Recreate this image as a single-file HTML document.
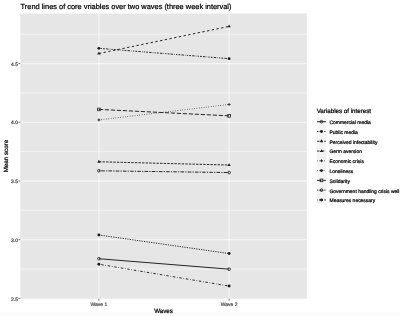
<!DOCTYPE html>
<html><head><meta charset="utf-8"><style>
html,body{margin:0;padding:0;background:#fff;}
body{width:400px;height:316px;overflow:hidden;}
svg{display:block;will-change:transform;}
text{font-family:"Liberation Sans",sans-serif;stroke-width:0.22px;text-rendering:geometricPrecision;}
</style></head><body>
<svg width="400" height="316" viewBox="0 0 400 316">
<rect x="0" y="0" width="400" height="316" fill="#fff"/>

<rect x="0" y="312" width="400" height="4" fill="#FBFBFB"/>
<text x="20.6" y="8.9" font-size="7.41" fill="#000" stroke="#000">Trend lines of core vriables over two waves (three week interval)</text>
<rect x="20.3" y="13.5" width="286.50" height="285.20" fill="#E6E6E6"/>
<line x1="20.3" x2="306.8" y1="269.05" y2="269.05" stroke="#fff" stroke-width="1.0" stroke-opacity="0.5"/>
<line x1="20.3" x2="306.8" y1="210.35" y2="210.35" stroke="#fff" stroke-width="1.0" stroke-opacity="0.5"/>
<line x1="20.3" x2="306.8" y1="151.65" y2="151.65" stroke="#fff" stroke-width="1.0" stroke-opacity="0.5"/>
<line x1="20.3" x2="306.8" y1="92.95" y2="92.95" stroke="#fff" stroke-width="1.0" stroke-opacity="0.5"/>
<line x1="20.3" x2="306.8" y1="34.25" y2="34.25" stroke="#fff" stroke-width="1.0" stroke-opacity="0.5"/>
<line x1="20.3" x2="306.8" y1="239.70" y2="239.70" stroke="#fff" stroke-width="1.3" stroke-opacity="0.6"/>
<line x1="20.3" x2="306.8" y1="181.00" y2="181.00" stroke="#fff" stroke-width="1.3" stroke-opacity="0.6"/>
<line x1="20.3" x2="306.8" y1="122.30" y2="122.30" stroke="#fff" stroke-width="1.3" stroke-opacity="0.6"/>
<line x1="20.3" x2="306.8" y1="63.60" y2="63.60" stroke="#fff" stroke-width="1.3" stroke-opacity="0.6"/>
<line x1="98.9" x2="98.9" y1="13.5" y2="298.7" stroke="#fff" stroke-width="1.3" stroke-opacity="0.6"/>
<line x1="229.1" x2="229.1" y1="13.5" y2="298.7" stroke="#fff" stroke-width="1.3" stroke-opacity="0.6"/>
<line x1="98.9" y1="258.72" x2="229.1" y2="269.17" stroke="#1a1a1a" stroke-width="0.95"/>
<line x1="98.9" y1="235.00" x2="229.1" y2="253.55" stroke="#1a1a1a" stroke-width="0.95" stroke-dasharray="1.20 1.20"/>
<line x1="98.9" y1="161.75" x2="229.1" y2="165.03" stroke="#1a1a1a" stroke-width="0.95" stroke-dasharray="2.40 1.20"/>
<line x1="98.9" y1="53.50" x2="229.1" y2="26.38" stroke="#1a1a1a" stroke-width="0.95" stroke-dasharray="2.40 2.40"/>
<line x1="98.9" y1="119.95" x2="229.1" y2="104.46" stroke="#1a1a1a" stroke-width="0.95" stroke-dasharray="0.60 1.80"/>
<line x1="98.9" y1="264.24" x2="229.1" y2="286.07" stroke="#1a1a1a" stroke-width="0.95" stroke-dasharray="0.60 1.80 2.40 1.80"/>
<line x1="98.9" y1="109.39" x2="229.1" y2="115.84" stroke="#1a1a1a" stroke-width="0.95" stroke-dasharray="4.20 1.80"/>
<line x1="98.9" y1="170.79" x2="229.1" y2="172.55" stroke="#1a1a1a" stroke-width="0.95" stroke-dasharray="1.20 1.20 3.60 1.20"/>
<line x1="98.9" y1="48.34" x2="229.1" y2="58.67" stroke="#1a1a1a" stroke-width="0.95" stroke-dasharray="0.60 1.20 1.20 1.20 1.80 1.20 2.40 1.20"/>
<circle cx="98.90" cy="258.72" r="1.35" fill="none" stroke="#1a1a1a" stroke-width="0.8"/>
<circle cx="229.10" cy="269.17" r="1.35" fill="none" stroke="#1a1a1a" stroke-width="0.8"/>
<circle cx="98.90" cy="235.00" r="1.45" fill="#1a1a1a"/>
<circle cx="229.10" cy="253.55" r="1.45" fill="#1a1a1a"/>
<path d="M98.90,159.85 L100.55,162.70 L97.25,162.70Z" fill="#1a1a1a"/>
<path d="M229.10,163.13 L230.75,165.98 L227.45,165.98Z" fill="#1a1a1a"/>
<path d="M98.90,51.60 L100.55,54.45 L97.25,54.45Z" fill="#1a1a1a"/>
<path d="M229.10,24.48 L230.75,27.33 L227.45,27.33Z" fill="#1a1a1a"/>
<path d="M97.40,119.95H100.40M98.90,118.45V121.45" stroke="#1a1a1a" stroke-width="0.8"/>
<path d="M227.60,104.46H230.60M229.10,102.96V105.96" stroke="#1a1a1a" stroke-width="0.8"/>
<circle cx="98.90" cy="264.24" r="1.45" fill="#1a1a1a"/>
<circle cx="229.10" cy="286.07" r="1.45" fill="#1a1a1a"/>
<rect x="97.60" y="108.09" width="2.60" height="2.60" fill="none" stroke="#1a1a1a" stroke-width="0.8"/>
<rect x="227.80" y="114.54" width="2.60" height="2.60" fill="none" stroke="#1a1a1a" stroke-width="0.8"/>
<circle cx="98.90" cy="170.79" r="1.35" fill="none" stroke="#1a1a1a" stroke-width="0.8"/>
<circle cx="229.10" cy="172.55" r="1.35" fill="none" stroke="#1a1a1a" stroke-width="0.8"/>
<circle cx="98.90" cy="48.34" r="1.45" fill="#1a1a1a"/>
<circle cx="229.10" cy="58.67" r="1.45" fill="#1a1a1a"/>
<line x1="18.40" x2="20.3" y1="298.40" y2="298.40" stroke="#333" stroke-width="0.7"/>
<text x="17.9" y="300.50" font-size="4.97" fill="#4D4D4D" stroke="#4D4D4D" text-anchor="end">2.5</text>
<line x1="18.40" x2="20.3" y1="239.70" y2="239.70" stroke="#333" stroke-width="0.7"/>
<text x="17.9" y="241.80" font-size="4.97" fill="#4D4D4D" stroke="#4D4D4D" text-anchor="end">3.0</text>
<line x1="18.40" x2="20.3" y1="181.00" y2="181.00" stroke="#333" stroke-width="0.7"/>
<text x="17.9" y="183.10" font-size="4.97" fill="#4D4D4D" stroke="#4D4D4D" text-anchor="end">3.5</text>
<line x1="18.40" x2="20.3" y1="122.30" y2="122.30" stroke="#333" stroke-width="0.7"/>
<text x="17.9" y="124.40" font-size="4.97" fill="#4D4D4D" stroke="#4D4D4D" text-anchor="end">4.0</text>
<line x1="18.40" x2="20.3" y1="63.60" y2="63.60" stroke="#333" stroke-width="0.7"/>
<text x="17.9" y="65.70" font-size="4.97" fill="#4D4D4D" stroke="#4D4D4D" text-anchor="end">4.5</text>
<line x1="98.9" x2="98.9" y1="298.7" y2="300.60" stroke="#333" stroke-width="0.7"/>
<text x="98.9" y="305.6" font-size="4.97" fill="#4D4D4D" stroke="#4D4D4D" text-anchor="middle">Wave 1</text>
<line x1="229.1" x2="229.1" y1="298.7" y2="300.60" stroke="#333" stroke-width="0.7"/>
<text x="229.1" y="305.6" font-size="4.97" fill="#4D4D4D" stroke="#4D4D4D" text-anchor="middle">Wave 2</text>
<text x="163.55" y="312.7" font-size="6.21" fill="#000" stroke="#000" text-anchor="middle">Waves</text>
<text transform="translate(7.9,156.10) rotate(-90)" x="0" y="0" font-size="6.21" fill="#000" stroke="#000" text-anchor="middle">Mean score</text>
<text x="316.7" y="113.4" font-size="6.21" fill="#000" stroke="#000">Variables of interest</text>
<rect x="316.6" y="116.81" width="9.78" height="9.78" fill="#F4F4F4"/>
<line x1="317.10" x2="325.88" y1="121.70" y2="121.70" stroke="#1a1a1a" stroke-width="0.95"/>
<circle cx="321.49" cy="121.70" r="1.35" fill="none" stroke="#1a1a1a" stroke-width="0.8"/>
<text x="329.5" y="124.10" font-size="4.97" fill="#000" stroke="#000">Commercial media</text>
<rect x="316.6" y="126.59" width="9.78" height="9.78" fill="#F4F4F4"/>
<line x1="317.10" x2="325.88" y1="131.48" y2="131.48" stroke="#1a1a1a" stroke-width="0.95" stroke-dasharray="1.20 1.20"/>
<circle cx="321.49" cy="131.48" r="1.45" fill="#1a1a1a"/>
<text x="329.5" y="133.88" font-size="4.97" fill="#000" stroke="#000">Public media</text>
<rect x="316.6" y="136.37" width="9.78" height="9.78" fill="#F4F4F4"/>
<line x1="317.10" x2="325.88" y1="141.26" y2="141.26" stroke="#1a1a1a" stroke-width="0.95" stroke-dasharray="2.40 1.20"/>
<path d="M321.49,139.36 L323.14,142.21 L319.84,142.21Z" fill="#1a1a1a"/>
<text x="329.5" y="143.66" font-size="4.97" fill="#000" stroke="#000">Perceived infectability</text>
<rect x="316.6" y="146.15" width="9.78" height="9.78" fill="#F4F4F4"/>
<line x1="317.10" x2="325.88" y1="151.04" y2="151.04" stroke="#1a1a1a" stroke-width="0.95" stroke-dasharray="2.40 2.40"/>
<path d="M321.49,149.14 L323.14,151.99 L319.84,151.99Z" fill="#1a1a1a"/>
<text x="329.5" y="153.44" font-size="4.97" fill="#000" stroke="#000">Germ aversion</text>
<rect x="316.6" y="155.93" width="9.78" height="9.78" fill="#F4F4F4"/>
<line x1="317.10" x2="325.88" y1="160.82" y2="160.82" stroke="#1a1a1a" stroke-width="0.95" stroke-dasharray="0.60 1.80"/>
<path d="M319.99,160.82H322.99M321.49,159.32V162.32" stroke="#1a1a1a" stroke-width="0.8"/>
<text x="329.5" y="163.22" font-size="4.97" fill="#000" stroke="#000">Economic crisis</text>
<rect x="316.6" y="165.71" width="9.78" height="9.78" fill="#F4F4F4"/>
<line x1="317.10" x2="325.88" y1="170.60" y2="170.60" stroke="#1a1a1a" stroke-width="0.95" stroke-dasharray="0.60 1.80 2.40 1.80"/>
<circle cx="321.49" cy="170.60" r="1.45" fill="#1a1a1a"/>
<text x="329.5" y="173.00" font-size="4.97" fill="#000" stroke="#000">Loneliness</text>
<rect x="316.6" y="175.49" width="9.78" height="9.78" fill="#F4F4F4"/>
<line x1="317.10" x2="325.88" y1="180.38" y2="180.38" stroke="#1a1a1a" stroke-width="0.95" stroke-dasharray="4.20 1.80"/>
<rect x="320.19" y="179.08" width="2.60" height="2.60" fill="none" stroke="#1a1a1a" stroke-width="0.8"/>
<text x="329.5" y="182.78" font-size="4.97" fill="#000" stroke="#000">Solidarity</text>
<rect x="316.6" y="185.27" width="9.78" height="9.78" fill="#F4F4F4"/>
<line x1="317.10" x2="325.88" y1="190.16" y2="190.16" stroke="#1a1a1a" stroke-width="0.95" stroke-dasharray="1.20 1.20 3.60 1.20"/>
<circle cx="321.49" cy="190.16" r="1.35" fill="none" stroke="#1a1a1a" stroke-width="0.8"/>
<text x="329.5" y="192.56" font-size="4.97" fill="#000" stroke="#000">Government handling crisis well</text>
<rect x="316.6" y="195.05" width="9.78" height="9.78" fill="#F4F4F4"/>
<line x1="317.10" x2="325.88" y1="199.94" y2="199.94" stroke="#1a1a1a" stroke-width="0.95" stroke-dasharray="0.60 1.20 1.20 1.20 1.80 1.20 2.40 1.20"/>
<circle cx="321.49" cy="199.94" r="1.45" fill="#1a1a1a"/>
<text x="329.5" y="202.34" font-size="4.97" fill="#000" stroke="#000">Measures necessary</text>
</svg>
</body></html>
